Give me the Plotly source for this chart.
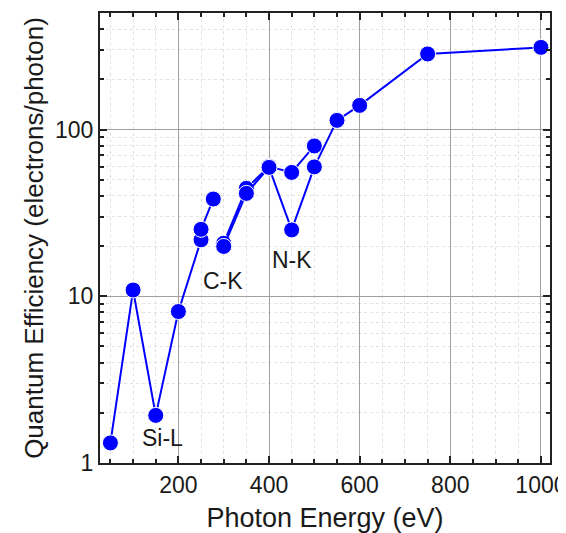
import math
import plotly.graph_objects as go

# Series 1 (low energy / Si-L and C-K region)
s1_energy = [50, 100, 150, 200, 250, 250, 277]
s1_qe = [1.32, 10.9, 1.93, 8.1, 21.8, 25.2, 38.3]
# Series 2
s2_energy = [300, 350, 400, 450, 500]
s2_qe = [20.8, 44.4, 60.0, 55.3, 79.7]
# Series 3
s3_energy = [300, 350, 400, 450, 500, 550, 600, 750, 1000]
s3_qe = [19.9, 41.4, 59.3, 25.0, 59.7, 113.5, 139.6, 284, 311]

labels = ["Si-L", "C-K", "N-K"]
label_x = [165, 298, 450]
label_y = [1.41, 12.3, 16.4]

FONT = "Liberation Sans, Arial, sans-serif"
BLUE = "#0000ff"
TXT = "#1a1a1a"

fig = go.Figure()
for xs, ys in [(s1_energy, s1_qe), (s2_energy, s2_qe), (s3_energy, s3_qe)]:
    fig.add_trace(go.Scatter(
        x=xs, y=ys, mode="lines+markers",
        line=dict(color=BLUE, width=2),
        marker=dict(color=BLUE, size=16, line=dict(color="white", width=1)),
        showlegend=False,
    ))

for t, x, y in zip(labels, label_x, label_y):
    fig.add_annotation(x=x, y=math.log10(y), text=t, showarrow=False,
                       font=dict(family=FONT, size=23, color=TXT))

axis_common = dict(
    showline=True, linecolor="#222", linewidth=2, mirror="ticks",
    ticks="inside", ticklen=7, tickwidth=1.5, tickcolor="#222",
    showgrid=True, gridcolor="#a0a0a0", gridwidth=1,
    zeroline=False, automargin=False, ticklabeloverflow="allow",
    tickfont=dict(family=FONT, size=23, color=TXT),
)

fig.update_xaxes(
    **axis_common,
    range=[27, 1020], tick0=0, dtick=200,
    title=dict(text="Photon Energy (eV)", font=dict(family=FONT, size=27, color=TXT), standoff=13),
    minor=dict(dtick=50, tick0=0, ticks="inside", ticklen=4, tickcolor="#222",
               showgrid=True, gridcolor="#e2e2e2", griddash="dot"),
)
fig.update_yaxes(
    **axis_common,
    type="log", range=[0, math.log10(500)], dtick=1,
    title=dict(text="Quantum Efficiency (electrons/photon)", font=dict(family=FONT, size=26, color=TXT), standoff=4),
    minor=dict(dtick="D1", ticks="inside", ticklen=4, tickcolor="#222",
               showgrid=True, gridcolor="#e2e2e2", griddash="dot"),
)

# the page body adds an 8px offset, so the figure is sized to fit the 566x533 window
fig.update_layout(
    width=558, height=525,
    margin=dict(l=92, r=16, t=5, b=70),
    plot_bgcolor="white", paper_bgcolor="white",
)

fig.write_html("out.html")
